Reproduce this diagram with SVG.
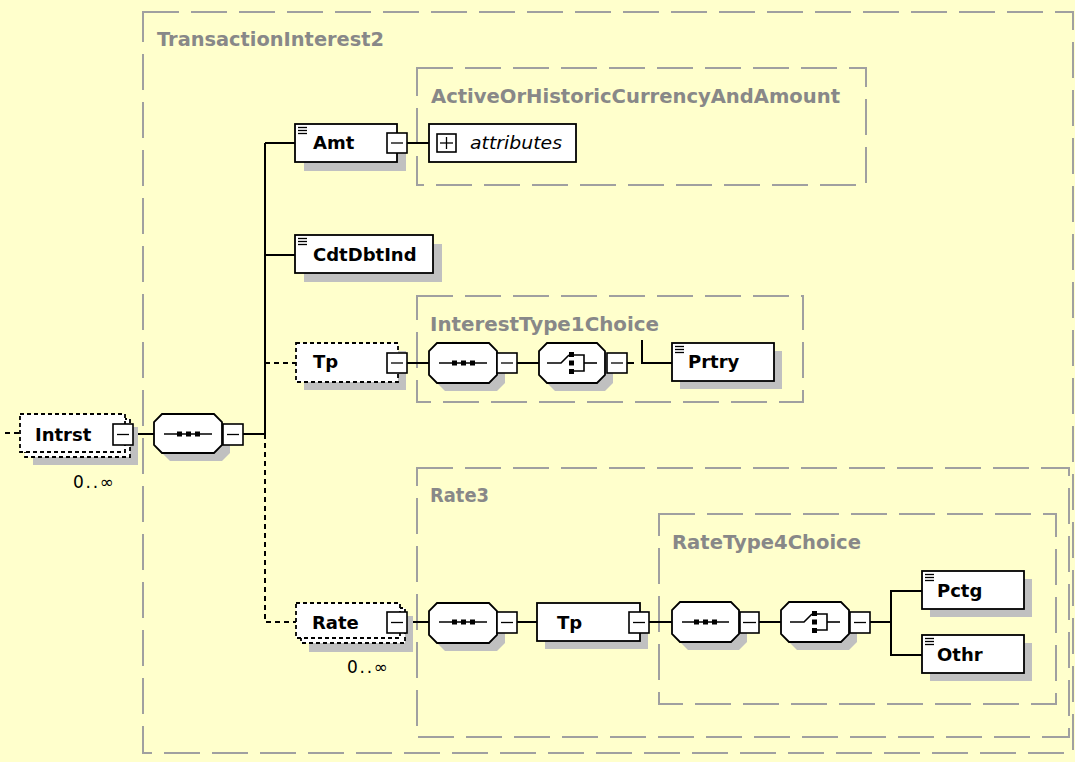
<svg xmlns="http://www.w3.org/2000/svg" width="1075" height="762" viewBox="0 0 1075 762">
<style>
.bg{fill:#FFFFCC}
.grp{fill:none;stroke:#A0A0A0;stroke-width:2;stroke-dasharray:36 12}
.glabel{font-family:"DejaVu Sans",sans-serif;font-weight:bold;font-size:19px;fill:#888888}
.el{fill:#fff;stroke:#000;stroke-width:1.8}
.opt{fill:#fff;stroke:#000;stroke-width:1.8;stroke-dasharray:4 3}
.sh{fill:#C0C0C0}
.name{font-family:"DejaVu Sans",sans-serif;font-weight:bold;font-size:18px;fill:#000}
.occ{font-family:"DejaVu Sans",sans-serif;font-size:17px;fill:#000}
.attr{font-family:"DejaVu Sans",sans-serif;font-style:italic;font-size:17px;fill:#000}
.ln{fill:none;stroke:#000;stroke-width:2}
.dl{fill:none;stroke:#000;stroke-width:2;stroke-dasharray:5 4}
.btn{fill:#fff;stroke:#000;stroke-width:1.6}
.ico{fill:none;stroke:#000;stroke-width:1.6}
.sq{fill:#000}
.doc{stroke:#000;stroke-width:1.3}
</style>
<rect class="bg" x="0" y="0" width="1075" height="762"/>

<g id="groups">
  <rect class="grp" x="143" y="12" width="930" height="741"/>
  <text class="glabel" x="157" y="46" textLength="227" lengthAdjust="spacingAndGlyphs">TransactionInterest2</text>
  <rect class="grp" x="417" y="68" width="449" height="117"/>
  <text class="glabel" x="431" y="103" textLength="409" lengthAdjust="spacingAndGlyphs">ActiveOrHistoricCurrencyAndAmount</text>
  <rect class="grp" x="417" y="296" width="386" height="106"/>
  <text class="glabel" x="430" y="331" textLength="229" lengthAdjust="spacingAndGlyphs">InterestType1Choice</text>
  <rect class="grp" x="417" y="468" width="652" height="269"/>
  <text class="glabel" x="430" y="502" textLength="59" lengthAdjust="spacingAndGlyphs">Rate3</text>
  <rect class="grp" x="659" y="514" width="397" height="190"/>
  <text class="glabel" x="672" y="549" textLength="189" lengthAdjust="spacingAndGlyphs">RateType4Choice</text>
</g>

<g id="connectors">
  <line class="dl" x1="5" y1="433" x2="20" y2="433"/>
  <line class="ln" x1="133" y1="434" x2="154" y2="434"/>
  <line class="ln" x1="243" y1="434" x2="265" y2="434"/>
  <line class="ln" x1="265" y1="143" x2="265" y2="434"/>
  <line class="ln" x1="265" y1="143" x2="295" y2="143"/>
  <line class="ln" x1="265" y1="255" x2="295" y2="255"/>
  <line class="dl" x1="265" y1="363" x2="296" y2="363"/>
  <polyline class="dl" points="265,434 265,622 296,622"/>
  <line class="ln" x1="407" y1="143" x2="429" y2="143"/>
  <line class="ln" x1="407" y1="363" x2="429" y2="363"/>
  <line class="ln" x1="517" y1="363" x2="539" y2="363"/>
  <line class="ln" x1="627" y1="363" x2="634" y2="363"/>
  <polyline class="ln" points="642,340 642,363 672,363"/>
  <line class="ln" x1="407" y1="622" x2="429" y2="622"/>
  <line class="ln" x1="517" y1="622" x2="537" y2="622"/>
  <line class="ln" x1="649" y1="622" x2="672" y2="622"/>
  <line class="ln" x1="759" y1="622" x2="781" y2="622"/>
  <line class="ln" x1="870" y1="622" x2="891" y2="622"/>
  <polyline class="ln" points="922,591 891,591 891,655 922,655"/>
</g>

<g id="node-Intrst">
  <rect class="sh" x="33" y="427" width="105" height="38"/>
  <rect class="opt" x="25" y="419" width="105" height="38"/>
  <rect class="opt" x="20" y="414" width="105" height="38"/>
  <text class="name" x="35" y="441">Intrst</text>
  <rect class="btn" x="113" y="424" width="20" height="21"/>
  <line class="doc" x1="117" y1="434.5" x2="129" y2="434.5"/>
  <text class="occ" x="73" y="488" textLength="41" lengthAdjust="spacing">0..∞</text>
</g>

<g id="node-Intrst-seq">
  <path class="sh" d="M170,422H222L230,430V453L222,461H170L162,453V430Z"/>
  <path class="el" d="M162,414H214L222,422V445L214,453H162L154,445V422Z"/>
  <line class="ico" x1="164" y1="434" x2="212" y2="434"/>
  <rect class="sq" x="177" y="431.5" width="5" height="5"/>
  <rect class="sq" x="186" y="431.5" width="5" height="5"/>
  <rect class="sq" x="195" y="431.5" width="5" height="5"/>
  <rect class="btn" x="223" y="424" width="20" height="21"/>
  <line class="doc" x1="227" y1="434.5" x2="239" y2="434.5"/>
</g>

<g id="node-Amt">
  <rect class="sh" x="304" y="133" width="102" height="38"/>
  <rect class="el" x="295" y="124" width="102" height="38"/>
  <line class="doc" x1="298" y1="127.5" x2="307" y2="127.5"/>
  <line class="doc" x1="298" y1="130.5" x2="307" y2="130.5"/>
  <line class="doc" x1="298" y1="133.5" x2="307" y2="133.5"/>
  <text class="name" x="313" y="149">Amt</text>
  <rect class="btn" x="387" y="133" width="20" height="20"/>
  <line class="doc" x1="391" y1="143" x2="403" y2="143"/>
</g>

<g id="node-attributes">
  <rect class="el" x="429" y="124" width="147" height="38"/>
  <rect class="btn" x="437" y="134" width="19" height="18"/>
  <line class="doc" x1="440" y1="143" x2="453" y2="143"/>
  <line class="doc" x1="446.5" y1="137" x2="446.5" y2="149"/>
  <text class="attr" x="470" y="149" textLength="92" lengthAdjust="spacingAndGlyphs">attributes</text>
</g>

<g id="node-CdtDbtInd">
  <rect class="sh" x="304" y="244" width="138" height="38"/>
  <rect class="el" x="295" y="235" width="138" height="38"/>
  <line class="doc" x1="298" y1="238.5" x2="307" y2="238.5"/>
  <line class="doc" x1="298" y1="241.5" x2="307" y2="241.5"/>
  <line class="doc" x1="298" y1="244.5" x2="307" y2="244.5"/>
  <text class="name" x="313" y="261">CdtDbtInd</text>
</g>

<g id="node-Tp">
  <rect class="sh" x="304" y="351" width="102" height="39"/>
  <rect class="opt" x="296" y="343" width="102" height="39"/>
  <text class="name" x="313" y="368">Tp</text>
  <rect class="btn" x="387" y="353" width="20" height="20"/>
  <line class="doc" x1="391" y1="363" x2="403" y2="363"/>
</g>

<g id="node-Tp-seq">
  <path class="sh" d="M445,351H497L505,359V383L497,391H445L437,383V359Z"/>
  <path class="el" d="M437,343H489L497,351V375L489,383H437L429,375V351Z"/>
  <line class="ico" x1="439" y1="363" x2="487" y2="363"/>
  <rect class="sq" x="452" y="360.5" width="5" height="5"/>
  <rect class="sq" x="461" y="360.5" width="5" height="5"/>
  <rect class="sq" x="470" y="360.5" width="5" height="5"/>
  <rect class="btn" x="497" y="353" width="20" height="20"/>
  <line class="doc" x1="501" y1="363" x2="513" y2="363"/>
</g>

<g id="node-Tp-choice">
  <path class="sh" d="M555,351H605L613,359V383L605,391H555L547,383V359Z"/>
  <path class="el" d="M547,343H597L605,351V375L597,383H547L539,375V351Z"/>
  <polyline class="ico" points="547,363 561,363 569,355"/>
  <rect class="sq" x="569" y="352" width="5" height="5"/>
  <rect class="sq" x="569" y="360.5" width="5" height="5"/>
  <rect class="sq" x="569" y="369" width="5" height="5"/>
  <polyline class="ico" points="574,355 584,355 584,371 574,371"/>
  <line class="ico" x1="584" y1="363" x2="597" y2="363"/>
  <rect class="btn" x="607" y="353" width="20" height="20"/>
  <line class="doc" x1="611" y1="363" x2="623" y2="363"/>
</g>

<g id="node-Prtry">
  <rect class="sh" x="680" y="351" width="102" height="38"/>
  <rect class="el" x="672" y="343" width="102" height="38"/>
  <line class="doc" x1="675" y1="346.5" x2="684" y2="346.5"/>
  <line class="doc" x1="675" y1="349.5" x2="684" y2="349.5"/>
  <line class="doc" x1="675" y1="352.5" x2="684" y2="352.5"/>
  <text class="name" x="688" y="368">Prtry</text>
</g>

<g id="node-Rate">
  <rect class="sh" x="309" y="616" width="104" height="36"/>
  <rect class="opt" x="301" y="608" width="104" height="35"/>
  <rect class="opt" x="296" y="603" width="104" height="35"/>
  <text class="name" x="312" y="629">Rate</text>
  <rect class="btn" x="387" y="612" width="20" height="21"/>
  <line class="doc" x1="391" y1="622.5" x2="403" y2="622.5"/>
  <text class="occ" x="347" y="673" textLength="41" lengthAdjust="spacing">0..∞</text>
</g>

<g id="node-Rate-seq">
  <path class="sh" d="M445,611H497L505,619V643L497,651H445L437,643V619Z"/>
  <path class="el" d="M437,603H489L497,611V635L489,643H437L429,635V611Z"/>
  <line class="ico" x1="439" y1="622" x2="487" y2="622"/>
  <rect class="sq" x="452" y="619.5" width="5" height="5"/>
  <rect class="sq" x="461" y="619.5" width="5" height="5"/>
  <rect class="sq" x="470" y="619.5" width="5" height="5"/>
  <rect class="btn" x="497" y="612" width="20" height="21"/>
  <line class="doc" x1="501" y1="622.5" x2="513" y2="622.5"/>
</g>

<g id="node-Rate-Tp">
  <rect class="sh" x="545" y="611" width="103" height="38"/>
  <rect class="el" x="537" y="603" width="103" height="38"/>
  <text class="name" x="557" y="629">Tp</text>
  <rect class="btn" x="629" y="612" width="20" height="21"/>
  <line class="doc" x1="633" y1="622.5" x2="645" y2="622.5"/>
</g>

<g id="node-RateType-seq">
  <path class="sh" d="M688,610H739L747,618V642L739,650H688L680,642V618Z"/>
  <path class="el" d="M680,602H731L739,610V634L731,642H680L672,634V610Z"/>
  <line class="ico" x1="682" y1="622" x2="729" y2="622"/>
  <rect class="sq" x="694" y="619.5" width="5" height="5"/>
  <rect class="sq" x="703" y="619.5" width="5" height="5"/>
  <rect class="sq" x="712" y="619.5" width="5" height="5"/>
  <rect class="btn" x="740" y="612" width="19" height="21"/>
  <line class="doc" x1="743" y1="622.5" x2="756" y2="622.5"/>
</g>

<g id="node-RateType-choice">
  <path class="sh" d="M797,610H849L857,618V642L849,650H797L789,642V618Z"/>
  <path class="el" d="M789,602H841L849,610V634L841,642H789L781,634V610Z"/>
  <polyline class="ico" points="790,622 804,622 812,614"/>
  <rect class="sq" x="812" y="611" width="5" height="5"/>
  <rect class="sq" x="812" y="619.5" width="5" height="5"/>
  <rect class="sq" x="812" y="628" width="5" height="5"/>
  <polyline class="ico" points="817,614 827,614 827,630 817,630"/>
  <line class="ico" x1="827" y1="622" x2="840" y2="622"/>
  <rect class="btn" x="850" y="612" width="20" height="21"/>
  <line class="doc" x1="854" y1="622.5" x2="866" y2="622.5"/>
</g>

<g id="node-Pctg">
  <rect class="sh" x="930" y="579" width="102" height="38"/>
  <rect class="el" x="922" y="571" width="102" height="38"/>
  <line class="doc" x1="925" y1="574.5" x2="934" y2="574.5"/>
  <line class="doc" x1="925" y1="577.5" x2="934" y2="577.5"/>
  <line class="doc" x1="925" y1="580.5" x2="934" y2="580.5"/>
  <text class="name" x="937" y="597">Pctg</text>
</g>

<g id="node-Othr">
  <rect class="sh" x="930" y="643" width="102" height="38"/>
  <rect class="el" x="922" y="635" width="102" height="38"/>
  <line class="doc" x1="925" y1="638.5" x2="934" y2="638.5"/>
  <line class="doc" x1="925" y1="641.5" x2="934" y2="641.5"/>
  <line class="doc" x1="925" y1="644.5" x2="934" y2="644.5"/>
  <text class="name" x="937" y="661">Othr</text>
</g>
</svg>
